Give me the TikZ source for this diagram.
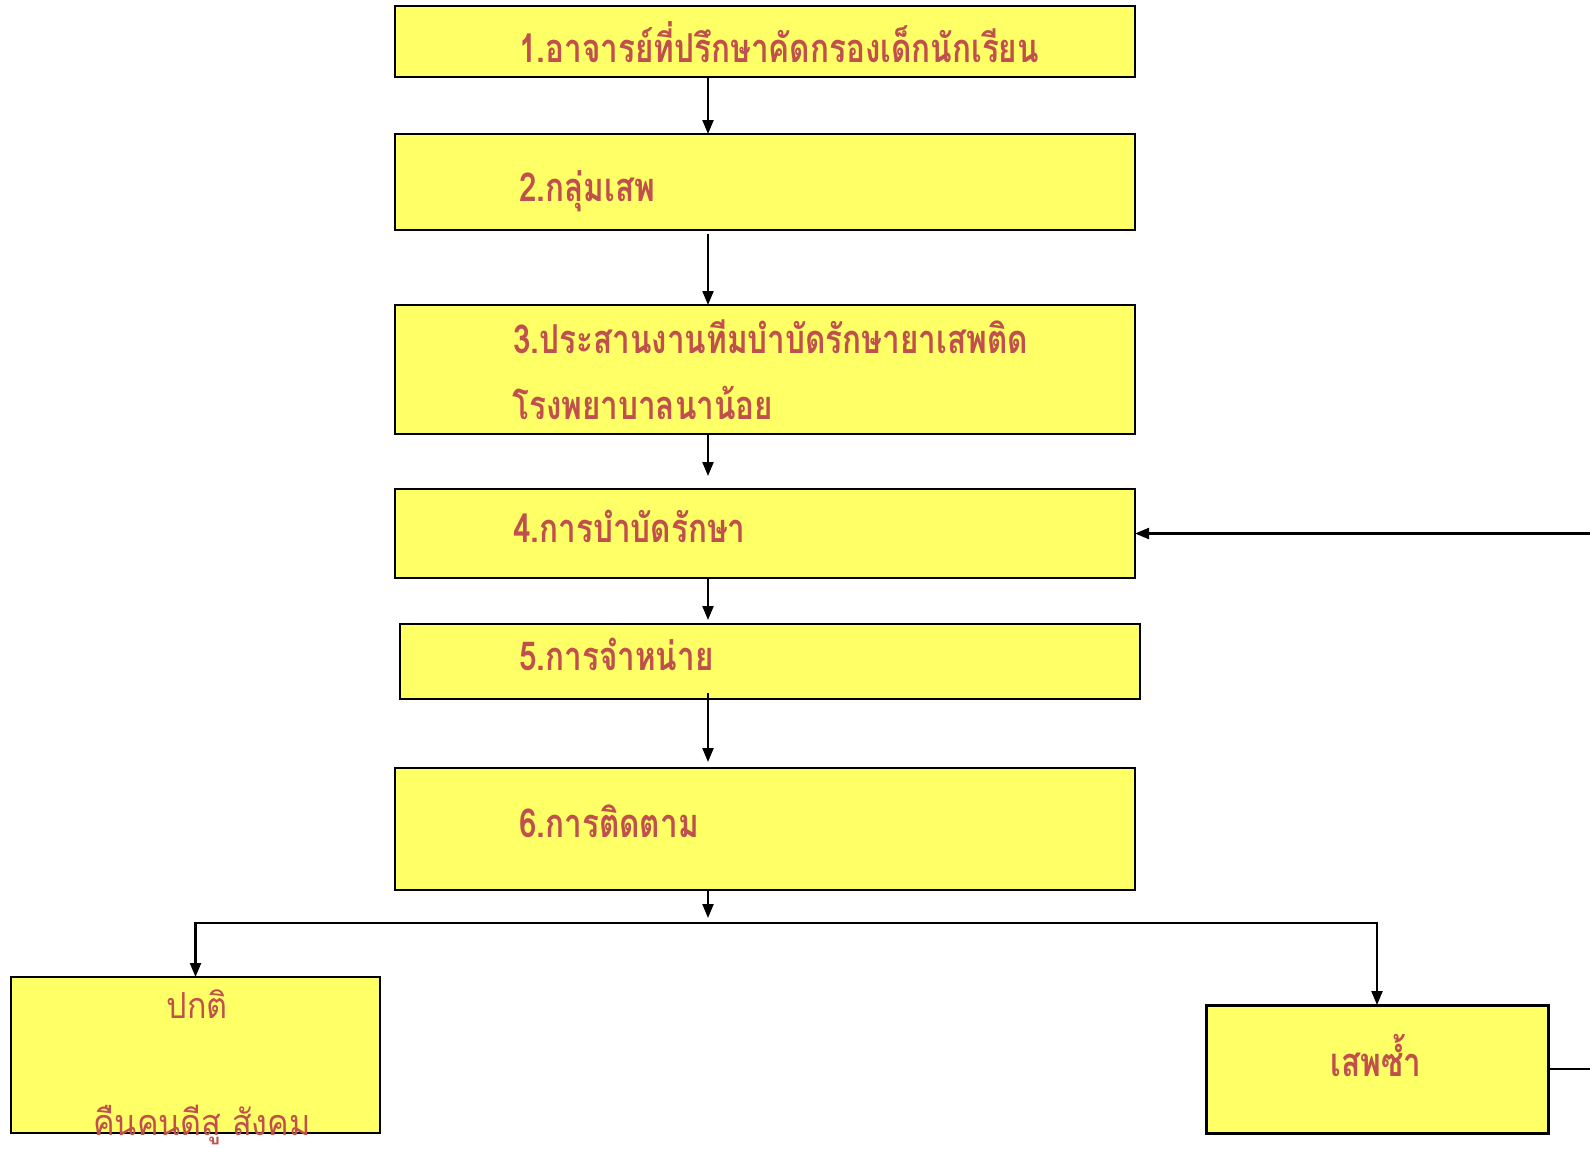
\documentclass[tikz,border=0pt]{standalone}
\usepackage{fontspec}
\usetikzlibrary{arrows.meta}
\newfontfamily\thaib[Script=Thai,FakeStretch=0.79]{Loma}
\newfontfamily\thair[Script=Thai,FakeStretch=0.9]{Loma}
\definecolor{boxyellow}{HTML}{FFFF66}
\definecolor{txtred}{HTML}{C0504D}
\begin{document}
\begin{tikzpicture}[x=1bp,y=-1bp,
  box/.style={draw=black, fill=boxyellow, line width=2bp, rectangle, inner sep=0pt, outer sep=0pt, anchor=north west},
  lbl/.style={text=txtred, inner sep=0pt, anchor=base west, font=\thaib\bfseries\fontsize{40}{48}\selectfont},
  lblr/.style={text=txtred, inner sep=0pt, anchor=base, font=\thair\fontsize{36}{44}\selectfont},
  arr/.style={line width=2.2bp, -{Triangle[width=11bp,length=14bp]}},
  ln/.style={line width=2.2bp}]
\useasboundingbox (0,0) rectangle (1590,1148);
\coordinate (xm) at (708,0);
\coordinate (edge) at (1592,0);
% boxes
\node[box, minimum width=740bp, minimum height=71bp] (b1) at (395,6) {};
\node[box, minimum width=740bp, minimum height=96bp] (b2) at (395,134) {};
\node[box, minimum width=740bp, minimum height=129bp] (b3) at (395,305) {};
\node[box, minimum width=740bp, minimum height=89bp] (b4) at (395,489) {};
\node[box, minimum width=740bp, minimum height=75bp, line width=2.5bp] (b5) at (400,624) {};
\node[box, minimum width=740bp, minimum height=122bp] (b6) at (395,768) {};
\node[box, minimum width=369bp, minimum height=156bp] (ok) at (11,977) {};
\node[box, minimum width=342bp, minimum height=128bp, line width=3bp] (re) at (1206,1005) {};
% labels
\node[lbl] (t1) at (519,62) {1.อาจารย์ที่ปรึกษาคัดกรองเด็กนักเรียน};
\node[lbl] (t2) at (519,201) {2.กลุ่มเสพ};
\node[lbl] (t3a) at (513,353) {3.ประสานงานทีมบำบัดรักษายาเสพติด};
\node[lbl] (t3b) at (512,419) {โรงพยาบาลนาน้อย};
\node[lbl] (t4) at (513,542) {4.การบำบัดรักษา};
\node[lbl] (t5) at (519,670) {5.การจำหน่าย};
\node[lbl] (t6) at (519,837) {6.การติดตาม};
\node[lblr] (t7) at (197,1018) {ปกติ};
\node[lblr] (t8) at (202,1135) {คืนคนดีสู สังคม};
\node[lbl, anchor=base] (t9) at (1376,1076) {เสพซ้ำ};
% connectors
\draw[arr] (b1.south -| xm) -- (b2.north -| xm);
\draw[arr] ([yshift=-4bp]b2.south -| xm) -- (b3.north -| xm);
\draw[arr, shorten >=13bp] (b3.south -| xm) -- (b4.north -| xm);
\draw[arr, shorten >=4bp] (b4.south -| xm) -- (b5.north -| xm);
\draw[arr, shorten >=6bp] ([yshift=6bp]b5.south -| xm) -- (b6.north -| xm);
\coordinate (split) at (708,923);
\draw[arr, shorten >=5bp] (b6.south -| xm) -- (split);
\draw[arr] (split) -| (ok.north);
\draw[arr] (split) -| (re.north);
\draw[ln] (re.east) -- (re.east -| edge);
\draw[arr] (b4.east -| edge) -- (b4.east);
\end{tikzpicture}
\end{document}
